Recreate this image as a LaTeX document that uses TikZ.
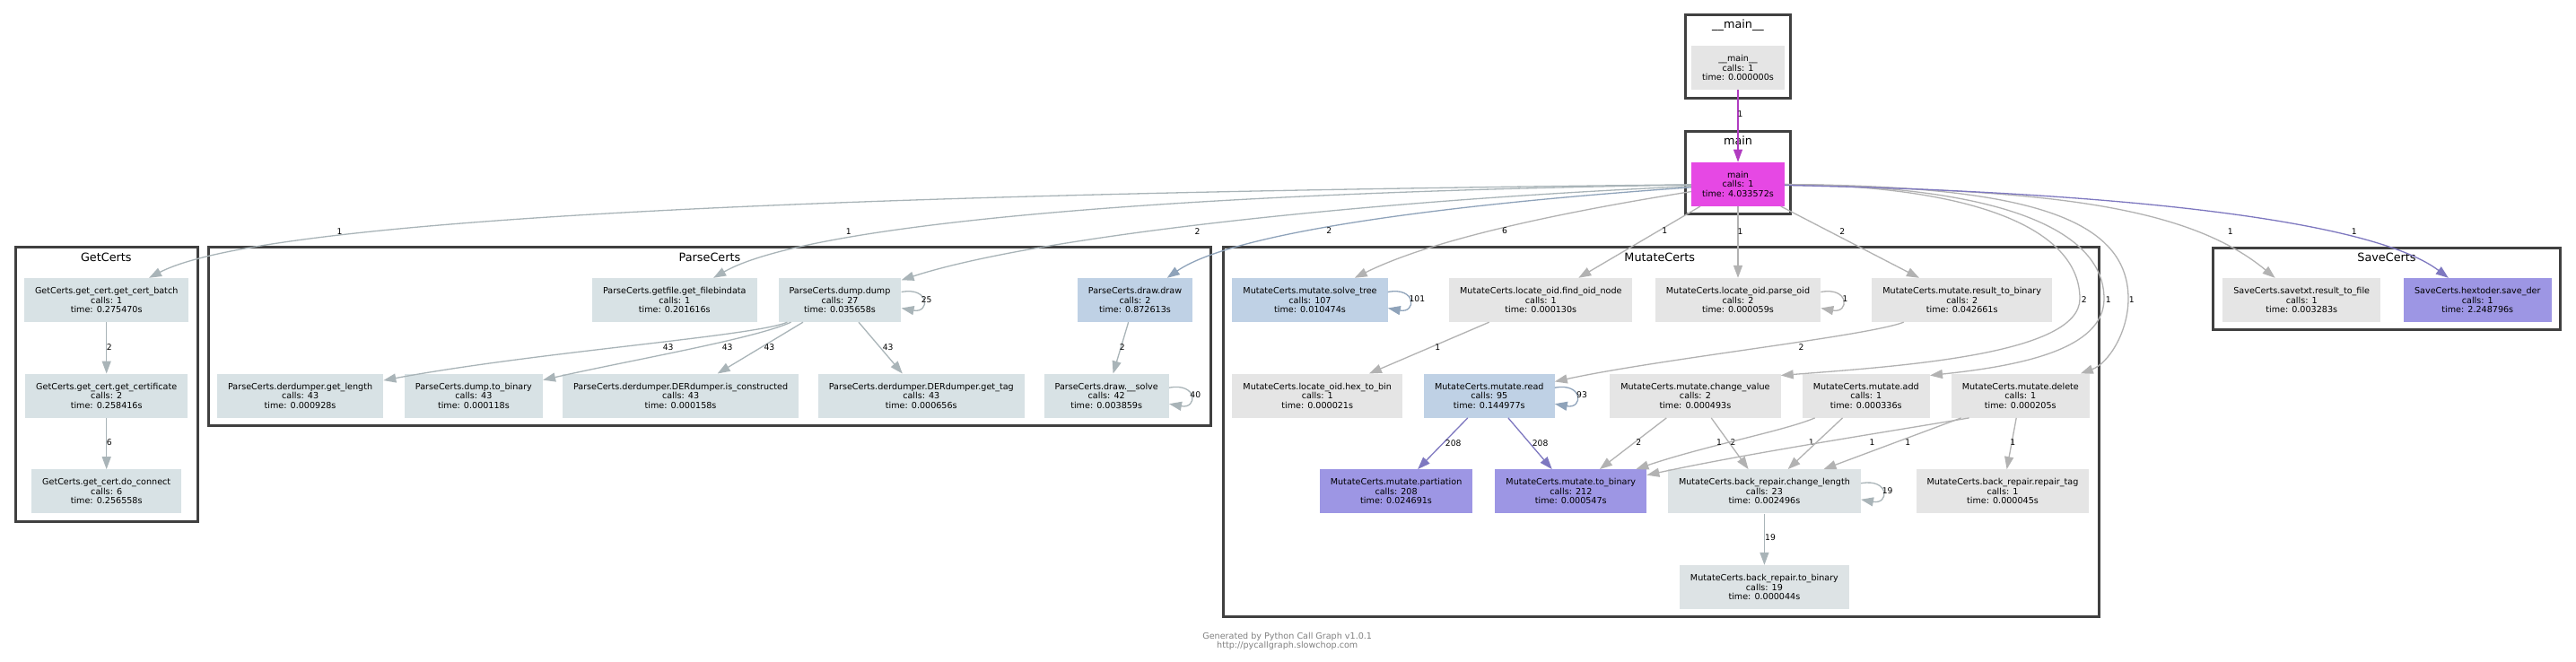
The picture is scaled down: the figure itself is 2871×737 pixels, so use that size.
\documentclass[tikz,border=0pt]{standalone}
\usepackage{fontspec}
\setmainfont{DejaVu Sans}
\usetikzlibrary{arrows.meta}

\definecolor{ngray}{HTML}{E5E5E5}
\definecolor{nslate}{HTML}{D8E2E5}
\definecolor{npale}{HTML}{DDE3E5}
\definecolor{nblue}{HTML}{BFD1E5}
\definecolor{npurple}{HTML}{9D96E4}
\definecolor{nmagenta}{HTML}{E648E4}
\definecolor{egray}{HTML}{B2B2B2}
\definecolor{eslate}{HTML}{A9B4B8}
\definecolor{eblue}{HTML}{8FA3BA}
\definecolor{epurple}{HTML}{7E78C0}
\definecolor{emagenta}{HTML}{B03CC0}
\definecolor{frame}{HTML}{404040}
\definecolor{footgray}{HTML}{808080}

\begin{document}
\begin{tikzpicture}[x=1pt,y=-1pt]
  \tikzset{
    fn/.style={rectangle, fill=ngray, align=center, inner xsep=12pt, minimum height=49pt, font=\fontsize{9.6}{10.5}\selectfont},
    cluster/.style={draw=frame, line width=3pt},
    title/.style={font=\fontsize{12.8}{14}\selectfont, inner sep=0pt},
    lbl/.style={font=\fontsize{9.2}{10}\selectfont, inner sep=0pt},
    link/.style={draw=#1, line width=1.3pt, -{Triangle[length=14pt,width=10pt]}},
    link/.default=egray,
  }
  \useasboundingbox[fill=white] (0,0) rectangle (2871,737);

  % clusters
  \draw[cluster] (1878.3,16.5) rectangle (1995.7,109.5);
  \node[title] (tmainmain) at (1937,27.7) {\_\_main\_\_};
  \draw[cluster] (1878.3,146.5) rectangle (1995.7,238.5);
  \node[title] (tmain) at (1937,156.7) {main};
  \draw[cluster] (17,275.8) rectangle (220.5,581.8);
  \node[title] (tget) at (118.3,286.7) {GetCerts};
  \draw[cluster] (232.7,275.8) rectangle (1349,474.2);
  \node[title] (tparse) at (791,286.7) {ParseCerts};
  \draw[cluster] (1363,275.5) rectangle (2339,687.5);
  \node[title] (tmutate) at (1849.8,286.7) {MutateCerts};
  \draw[cluster] (2466.5,276.5) rectangle (2853.5,367.8);
  \node[title] (tsave) at (2660,286.7) {SaveCerts};

  % __main__ and main
  \node [fn] (mainmain) at (1937,75.7) {\_\_main\_\_\\calls: 1\\time: 0.000000s};
  \node [fn, fill=nmagenta, below of=mainmain, node distance=129.6pt] (main) {main\\calls: 1\\time: 4.033572s};

  % GetCerts
  \node [fn, fill=nslate] (batch) at (118.7,334.5) {GetCerts.get\_cert.get\_cert\_batch\\calls: 1\\time: 0.275470s};
  \node [fn, fill=nslate, below of=batch, node distance=106.7pt] (certificate) {GetCerts.get\_cert.get\_certificate\\calls: 2\\time: 0.258416s};
  \node [fn, fill=nslate, below of=certificate, node distance=106.6pt] (connect) {GetCerts.get\_cert.do\_connect\\calls: 6\\time: 0.256558s};

  % ParseCerts
  \node [fn, fill=nslate] (filebin) at (751.8,334.5) {ParseCerts.getfile.get\_filebindata\\calls: 1\\time: 0.201616s};
  \node [fn, fill=nslate, right of=filebin, node distance=184.2pt] (dump) {ParseCerts.dump.dump\\calls: 27\\time: 0.035658s};
  \node [fn, fill=nblue, right of=dump, node distance=329pt] (drawdraw) {ParseCerts.draw.draw\\calls: 2\\time: 0.872613s};
  \node [fn, fill=nslate] (getlength) at (334.6,441.2) {ParseCerts.derdumper.get\_length\\calls: 43\\time: 0.000928s};
  \node [fn, fill=nslate, right of=getlength, node distance=193.3pt] (dumpbin) {ParseCerts.dump.to\_binary\\calls: 43\\time: 0.000118s};
  \node [fn, fill=nslate, right of=dumpbin, node distance=230.7pt] (constructed) {ParseCerts.derdumper.DERdumper.is\_constructed\\calls: 43\\time: 0.000158s};
  \node [fn, fill=nslate, right of=constructed, node distance=268.2pt] (gettag) {ParseCerts.derdumper.DERdumper.get\_tag\\calls: 43\\time: 0.000656s};
  \node [fn, fill=nslate, right of=gettag, node distance=206.4pt] (solve) {ParseCerts.draw.\_\_solve\\calls: 42\\time: 0.003859s};

  % MutateCerts
  \node [fn, fill=nblue] (solvetree) at (1460,334.5) {MutateCerts.mutate.solve\_tree\\calls: 107\\time: 0.010474s};
  \node [fn, right of=solvetree, node distance=257.3pt] (findoid) {MutateCerts.locate\_oid.find\_oid\_node\\calls: 1\\time: 0.000130s};
  \node [fn, right of=findoid, node distance=219.7pt] (parseoid) {MutateCerts.locate\_oid.parse\_oid\\calls: 2\\time: 0.000059s};
  \node [fn, right of=parseoid, node distance=249.7pt] (resbin) {MutateCerts.mutate.result\_to\_binary\\calls: 2\\time: 0.042661s};
  \node [fn] (hexbin) at (1468.2,441.2) {MutateCerts.locate\_oid.hex\_to\_bin\\calls: 1\\time: 0.000021s};
  \node [fn, fill=nblue, right of=hexbin, node distance=191.6pt] (read) {MutateCerts.mutate.read\\calls: 95\\time: 0.144977s};
  \node [fn, right of=read, node distance=229.6pt] (changeval) {MutateCerts.mutate.change\_value\\calls: 2\\time: 0.000493s};
  \node [fn, right of=changeval, node distance=190.4pt] (add) {MutateCerts.mutate.add\\calls: 1\\time: 0.000336s};
  \node [fn, right of=add, node distance=172pt] (delete) {MutateCerts.mutate.delete\\calls: 1\\time: 0.000205s};
  \node [fn, fill=npurple] (partiation) at (1556.1,547.8) {MutateCerts.mutate.partiation\\calls: 208\\time: 0.024691s};
  \node [fn, fill=npurple, right of=partiation, node distance=194.7pt] (tobin) {MutateCerts.mutate.to\_binary\\calls: 212\\time: 0.000547s};
  \node [fn, fill=npale, right of=tobin, node distance=215.6pt] (changelen) {MutateCerts.back\_repair.change\_length\\calls: 23\\time: 0.002496s};
  \node [fn, right of=changelen, node distance=265.6pt] (repairtag) {MutateCerts.back\_repair.repair\_tag\\calls: 1\\time: 0.000045s};
  \node [fn, fill=npale, below of=changelen, node distance=106.7pt] (repbin) {MutateCerts.back\_repair.to\_binary\\calls: 19\\time: 0.000044s};

  % SaveCerts
  \node [fn] (resfile) at (2565.2,334.5) {SaveCerts.savetxt.result\_to\_file\\calls: 1\\time: 0.003283s};
  \node [fn, fill=npurple, right of=resfile, node distance=196.1pt] (saveder) {SaveCerts.hextoder.save\_der\\calls: 1\\time: 2.248796s};

  % calls out of main
  \draw[link=emagenta] (mainmain) -- (main) node[lbl] (l0) at (1939.6,127.3) {1};
  \draw[link=eslate] (main) .. controls (1000,215) and (300,240) .. (batch) node[lbl] (l1) at (378.5,257.7) {1};
  \draw[link=eslate] (main) .. controls (1300,215) and (900,250) .. (filebin) node[lbl] (l2) at (945.9,257.7) {1};
  \draw[link=eslate] (main) .. controls (1500,225) and (1150,265) .. (dump) node[lbl] (l3) at (1334.5,257.7) {2};
  \draw[link=eblue] (main) .. controls (1650,225) and (1380,255) .. (drawdraw) node[lbl] (l4) at (1481.4,257.3) {2};
  \draw[link] (main) .. controls (1750,235) and (1600,265) .. (solvetree) node[lbl] (l5) at (1677,257.3) {6};
  \draw[link] (main) -- (findoid) node[lbl] (l6) at (1855.4,257.3) {1};
  \draw[link] (main) -- (parseoid) node[lbl] (l7) at (1939.6,257.7) {1};
  \draw[link] (main) -- (resbin) node[lbl] (l8) at (2053.3,257.7) {2};
  \draw[link] (main) .. controls (2200,207) and (2318,255) .. (2318,333) .. controls (2318,395) and (2120,408) .. ([yshift=-2pt]changeval.north east) node[lbl] (l9) at (2322.7,333.7) {2};
  \draw[link] (main) .. controls (2240,207) and (2345,260) .. (2345,333) .. controls (2345,390) and (2250,408) .. ([yshift=-2pt]add.north east) node[lbl] (l10) at (2349.7,333.7) {1};
  \draw[link] (main) .. controls (2250,207) and (2372,240) .. (2372,333) .. controls (2372,370) and (2350,405) .. (delete) node[lbl] (l11) at (2375.7,333.7) {1};
  \draw[link] (main) .. controls (2250,212) and (2430,222) .. (resfile) node[lbl] (l12) at (2485.7,257.7) {1};
  \draw[link=epurple] (main) .. controls (2400,215) and (2650,250) .. (saveder) node[lbl] (l13) at (2623.7,257.7) {1};

  % GetCerts calls
  \draw[link=eslate] (batch) -- (certificate) node[lbl] (l14) at (121.9,386.7) {2};
  \draw[link=eslate] (certificate) -- (connect) node[lbl] (l15) at (121.9,493.3) {6};

  % ParseCerts calls
  \draw[link=eslate] (dump) .. controls (840,375) and (600,392) .. (getlength) node[lbl] (l16) at (744.7,386.7) {43};
  \draw[link=eslate] (dump) .. controls (840,378) and (700,402) .. (dumpbin) node[lbl] (l17) at (810.6,386.7) {43};
  \draw[link=eslate] (dump) -- (constructed) node[lbl] (l18) at (857.4,386.7) {43};
  \draw[link=eslate] (dump) -- (gettag) node[lbl] (l19) at (989.7,386.7) {43};
  \draw[link=eslate] (drawdraw) -- (solve) node[lbl] (l20) at (1250.8,386.7) {2};
  \draw[link=eslate] ([yshift=9pt]dump.east) .. controls +(32,-6) and +(32,6) .. ([yshift=-9pt]dump.east) node[lbl] (l21) at (1032.6,333.7) {25};
  \draw[link=eslate] ([yshift=9pt]solve.east) .. controls +(32,-6) and +(32,6) .. ([yshift=-9pt]solve.east) node[lbl] (l22) at (1332.3,439.7) {40};

  % MutateCerts calls
  \draw[link=eblue] ([yshift=9pt]solvetree.east) .. controls +(32,-6) and +(32,6) .. ([yshift=-9pt]solvetree.east) node[lbl] (l23) at (1579.4,333.3) {101};
  \draw[link] ([yshift=9pt]parseoid.east) .. controls +(32,-6) and +(32,6) .. ([yshift=-9pt]parseoid.east) node[lbl] (l24) at (2056.4,333.3) {1};
  \draw[link] (findoid) -- (hexbin) node[lbl] (l25) at (1602.3,386.7) {1};
  \draw[link] (resbin) .. controls (2080,375) and (1850,400) .. (read) node[lbl] (l26) at (2007.4,386.7) {2};
  \draw[link=eblue] ([yshift=9pt]read.east) .. controls +(32,-6) and +(32,6) .. ([yshift=-9pt]read.east) node[lbl] (l27) at (1763,440) {93};
  \draw[link=epurple] (read) -- (partiation) node[lbl] (l28) at (1619.7,493.7) {208};
  \draw[link=epurple] (read) -- (tobin) node[lbl] (l29) at (1716.6,493.7) {208};
  \draw[link] (changeval) -- (tobin) node[lbl] (l30) at (1826.3,493.3) {2};
  \draw[link] (changeval) -- (changelen) node[lbl] (l31) at (1931.4,493.3) {2};
  \draw[link] (add) .. controls (1990,480) and (1900,497) .. (tobin) node[lbl] (l32) at (1916,493.3) {1};
  \draw[link] (add) -- (changelen) node[lbl] (l33) at (2018.7,493.3) {1};
  \draw[link] ([xshift=20pt]delete.south west) .. controls (2100,482) and (1950,505) .. (tobin) node[lbl] (l34) at (2086.5,493.3) {1};
  \draw[link] (delete) -- (changelen) node[lbl] (l35) at (2126.3,493.3) {1};
  \draw[link] (delete) -- (repairtag) node[lbl] (l36) at (2243.3,493.3) {1};
  \draw[link=eslate] ([yshift=9pt]changelen.east) .. controls +(32,-6) and +(32,6) .. ([yshift=-9pt]changelen.east) node[lbl] (l37) at (2103.7,546.7) {19};
  \draw[link=eslate] (changelen) -- (repbin) node[lbl] (l38) at (1973,599.3) {19};

  \node[align=center, text=footgray, font=\fontsize{9.6}{10}\selectfont] (credit) at (1434.7,715) {Generated by Python Call Graph v1.0.1\\http://pycallgraph.slowchop.com};
\end{tikzpicture}
\end{document}
